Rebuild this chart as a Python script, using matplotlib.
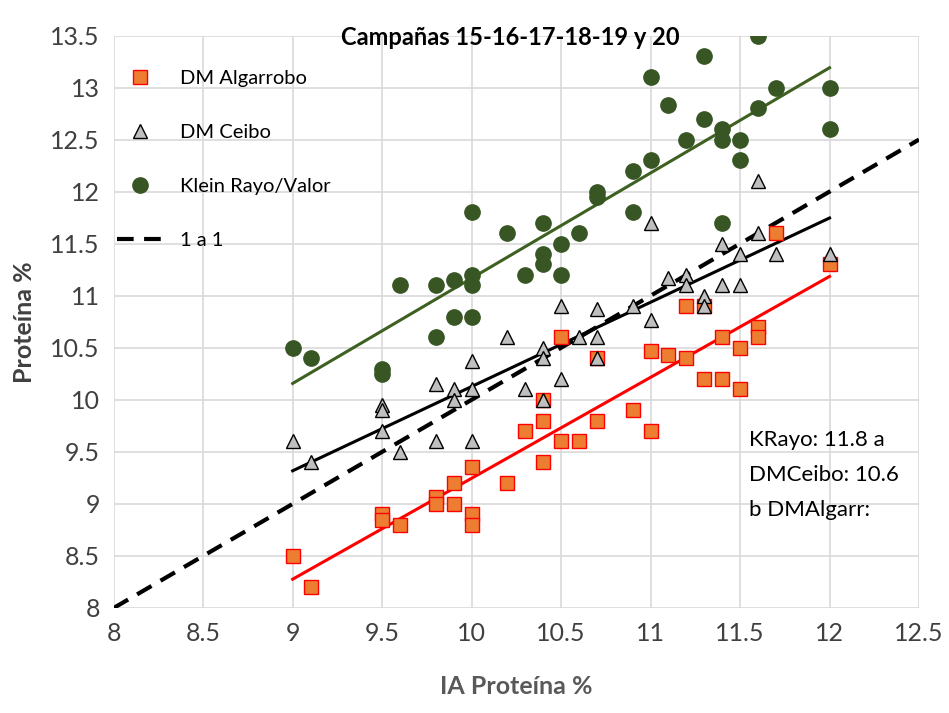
import matplotlib.pyplot as plt
import numpy as np

plt.rcParams['font.family'] = ['Lato', 'DejaVu Sans']

# DM Algarrobo
alg_x = [9, 9.1, 9.5, 9.5, 9.6, 9.8, 9.8, 9.9, 9.9, 10, 10, 10, 10.2, 10.3, 10.4, 10.4,
         10.4, 10.5, 10.5, 10.6, 10.7, 10.7, 10.9, 11, 11, 11.1, 11.2, 11.2, 11.3, 11.3,
         11.4, 11.4, 11.5, 11.5, 11.6, 11.6, 11.7, 12]
alg_y = [8.5, 8.2, 8.9, 8.85, 8.8, 9.07, 9.0, 9.2, 9.0, 9.35, 8.9, 8.8, 9.2, 9.7, 9.8, 9.4,
         10.0, 9.6, 10.6, 9.6, 9.8, 10.4, 9.9, 10.47, 9.7, 10.43, 10.4, 10.9, 10.9, 10.2,
         10.2, 10.6, 10.5, 10.1, 10.7, 10.6, 11.6, 11.3]

# DM Ceibo
cei_x = [9, 9.1, 9.5, 9.5, 9.5, 9.6, 9.8, 9.8, 9.9, 9.9, 10, 10, 10, 10.2, 10.3, 10.4,
         10.4, 10.4, 10.5, 10.5, 10.6, 10.7, 10.7, 10.7, 10.9, 11, 11, 11.1, 11.2, 11.2,
         11.3, 11.3, 11.4, 11.4, 11.5, 11.5, 11.6, 11.6, 11.7, 12]
cei_y = [9.6, 9.4, 9.95, 9.9, 9.7, 9.5, 10.15, 9.6, 10.1, 10.0, 10.37, 10.1, 9.6, 10.6,
         10.1, 10.5, 10.4, 10.0, 10.9, 10.2, 10.6, 10.87, 10.6, 10.4, 10.9, 11.7, 10.77,
         11.17, 11.2, 11.1, 11.0, 10.9, 11.5, 11.1, 11.4, 11.1, 12.1, 11.6, 11.4, 11.4]

# Klein Rayo/Valor
kle_x = [9, 9.1, 9.5, 9.5, 9.6, 9.8, 9.8, 9.9, 9.9, 10, 10, 10, 10, 10.2, 10.3, 10.4,
         10.4, 10.4, 10.5, 10.5, 10.6, 10.7, 10.7, 10.9, 10.9, 11, 11, 11.1, 11.2, 11.3,
         11.3, 11.4, 11.4, 11.4, 11.5, 11.5, 11.6, 11.6, 11.7, 12, 12]
kle_y = [10.5, 10.4, 10.3, 10.25, 11.1, 11.1, 10.6, 11.15, 10.8, 11.8, 11.2, 11.1, 10.8,
         11.6, 11.2, 11.7, 11.4, 11.3, 11.5, 11.2, 11.6, 12.0, 11.95, 12.2, 11.8, 13.1,
         12.3, 12.83, 12.5, 13.3, 12.7, 12.6, 12.5, 11.7, 12.5, 12.3, 13.5, 12.8, 13.0,
         13.0, 12.6]

ticks_x = [8, 8.5, 9, 9.5, 10, 10.5, 11, 11.5, 12, 12.5]
ticks_y = [8, 8.5, 9, 9.5, 10, 10.5, 11, 11.5, 12, 12.5, 13, 13.5]

fig = plt.figure(figsize=(9.49, 7.13), dpi=100)
ax = fig.add_axes([0.1198, 0.1473, 0.8486, 0.8029])

grid_c = '#d9d9d9'
for t in ticks_x:
    ax.axvline(t, color=grid_c, lw=1.2, zorder=0)
for t in ticks_y:
    ax.axhline(t, color=grid_c, lw=1.2, zorder=0)

# 1 a 1
ax.plot([8, 12.5], [8, 12.5], color='black', lw=3, ls=(0, (4, 2.5)), label='1 a 1', zorder=2)

# lineas de tendencia
xs = np.array([9, 12])
for xx, yy, c in [(alg_x, alg_y, '#ff0000'), (cei_x, cei_y, 'black'), (kle_x, kle_y, '#3e6020')]:
    m, b = np.polyfit(xx, yy, 1)
    ax.plot(xs, m * xs + b, color=c, lw=2.2, zorder=2)

ax.plot(alg_x, alg_y, ls='none', marker='s', ms=10, mfc='#ed7d31', mec='#ff0000', mew=1,
        label='DM Algarrobo', zorder=3)
ax.plot(cei_x, cei_y, ls='none', marker='^', ms=10, mfc='#bfbfbf', mec='black', mew=1,
        label='DM Ceibo', zorder=3)
ax.plot(kle_x, kle_y, ls='none', marker='o', ms=11, mfc='#375623', mec='#375623',
        label='Klein Rayo/Valor', zorder=3)

ax.set_xlim(8, 12.5)
ax.set_ylim(8, 13.5)
ax.set_xticks(ticks_x)
ax.set_yticks(ticks_y)
ax.set_xticklabels([('%g' % t) for t in ticks_x])
ax.set_yticklabels([('%g' % t) for t in ticks_y])
ax.tick_params(length=0, labelsize=18, colors='#404040', pad=10)
for s in ax.spines.values():
    s.set_visible(False)

ax.set_xlabel('IA Proteína %', fontsize=18, fontweight='bold', color='#595959', labelpad=22)
ax.set_ylabel('Proteína %', fontsize=18, fontweight='bold', color='#404040', labelpad=10)

fig.text(0.538, 0.948, 'Campañas 15-16-17-18-19 y 20', ha='center', va='center',
         fontsize=17, fontweight='bold')

h, l = ax.get_legend_handles_labels()
order = [1, 2, 3, 0]
ax.legend([h[i] for i in order], [l[i] for i in order], loc='upper left',
          bbox_to_anchor=(-0.018, 0.972), frameon=False, fontsize=14.5, labelspacing=1.83,
          handlelength=2.3, handletextpad=0.8)

ax.text(11.55, 9.71, 'KRayo: 11.8 a\nDMCeibo: 10.6\nb DMAlgarr:', fontsize=16,
        va='top', ha='left', linespacing=1.95, zorder=4)

fig.savefig('out.png', dpi=100)
